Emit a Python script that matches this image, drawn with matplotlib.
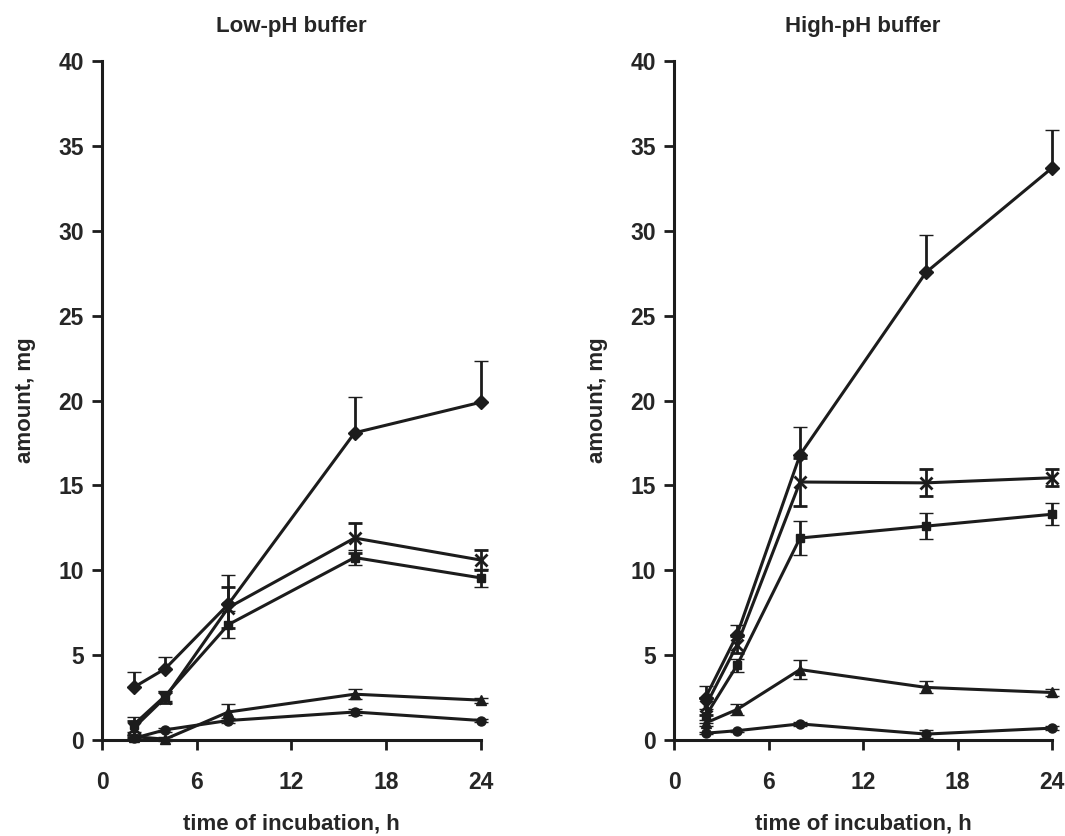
import matplotlib
matplotlib.use('Agg')
import matplotlib.pyplot as plt

# incubation times (h)
times = [2, 4, 8, 16, 24]

# Low-pH buffer: means and errors per series (mg)
low_diamond = [3.1, 4.2, 8.0, 18.1, 19.9]
low_diamond_err = [0.9, 0.7, 1.75, 2.1, 2.4]
low_cross = [0.7, 2.5, 7.8, 11.9, 10.6]
low_cross_err = [0.4, 0.3, 1.2, 0.9, 0.6]
low_square = [0.9, 2.6, 6.8, 10.75, 9.55]
low_square_err = [0.45, 0.3, 0.8, 0.45, 0.55]
low_triangle = [0.2, 0.05, 1.65, 2.7, 2.35]
low_triangle_err = [0.1, 0.1, 0.45, 0.3, 0.15]
low_circle = [0.1, 0.6, 1.15, 1.65, 1.15]
low_circle_err = [0.05, 0.1, 0.15, 0.15, 0.1]

# High-pH buffer
high_diamond = [2.5, 6.2, 16.8, 27.55, 33.7]
high_diamond_err = [0.7, 0.55, 1.65, 2.2, 2.25]
high_cross = [2.0, 5.6, 15.2, 15.15, 15.45]
high_cross_err = [0.5, 0.5, 1.4, 0.8, 0.5]
high_square = [1.4, 4.4, 11.9, 12.6, 13.3]
high_square_err = [0.4, 0.4, 1.0, 0.75, 0.65]
high_triangle = [1.0, 1.8, 4.15, 3.1, 2.8]
high_triangle_err = [0.2, 0.3, 0.55, 0.35, 0.2]
high_circle = [0.4, 0.55, 0.95, 0.35, 0.7]
high_circle_err = [0.05, 0.05, 0.1, 0.25, 0.1]

x_ticks = [0, 6, 12, 18, 24]
y_ticks = [0, 5, 10, 15, 20, 25, 30, 35, 40]

INK = '#1c1c1c'
TXT = '#262626'
plt.rcParams['font.family'] = ['Liberation Sans', 'DejaVu Sans']
plt.rcParams['font.weight'] = 'bold'

fig = plt.figure(figsize=(10.65, 8.36), dpi=100)
ax_low = fig.add_axes([0.0958, 0.1148, 0.3558, 0.8122])
ax_high = fig.add_axes([0.6329, 0.1148, 0.3549, 0.8122])


def draw_series(ax, y, err, marker, ms, upper_only=False):
    lower = [0] * len(err) if upper_only else err
    ax.errorbar(times, y, yerr=[lower, err], color=INK, lw=2.2,
                marker=marker, ms=ms, mew=2 if marker == 'x' else 1,
                elinewidth=2, capsize=5, capthick=2, zorder=3)


panels = [
    (ax_low, 'Low-pH buffer',
     [(low_diamond, low_diamond_err, 'D', 7, True),
      (low_cross, low_cross_err, 'x', 8, False),
      (low_square, low_square_err, 's', 6, False),
      (low_triangle, low_triangle_err, '^', 7, False),
      (low_circle, low_circle_err, 'o', 6.5, False)]),
    (ax_high, 'High-pH buffer',
     [(high_diamond, high_diamond_err, 'D', 7, True),
      (high_cross, high_cross_err, 'x', 8, False),
      (high_square, high_square_err, 's', 6, False),
      (high_triangle, high_triangle_err, '^', 7, False),
      (high_circle, high_circle_err, 'o', 6.5, False)]),
]

for ax, title, series in panels:
    for y, err, marker, ms, up in series:
        draw_series(ax, y, err, marker, ms, up)

    ax.set_xlim(0, 24)
    ax.set_ylim(0, 40)
    ax.set_xticks(x_ticks)
    ax.set_yticks(y_ticks)
    for side in ('top', 'right'):
        ax.spines[side].set_visible(False)
    for side in ('left', 'bottom'):
        ax.spines[side].set_linewidth(2.2)
        ax.spines[side].set_color(INK)
    ax.tick_params(direction='out', length=7, width=2, colors=INK,
                   labelsize=16.5, labelcolor=TXT, pad=6)
    ax.tick_params(axis='x', pad=15)
    for lbl in ax.get_xticklabels() + ax.get_yticklabels():
        lbl.set_fontweight('bold')
    ax.set_title(title, fontsize=16, fontweight='bold', color=TXT, pad=21)
    ax.set_xlabel('time of incubation, h', fontsize=16, fontweight='bold',
                  color=TXT, labelpad=14)
    ax.set_ylabel('amount, mg', fontsize=16, fontweight='bold',
                  color=TXT, labelpad=16)
    for artist in ax.get_children():
        try:
            artist.set_clip_on(False)
        except AttributeError:
            pass

fig.savefig('out.png', dpi=100, facecolor='white')
